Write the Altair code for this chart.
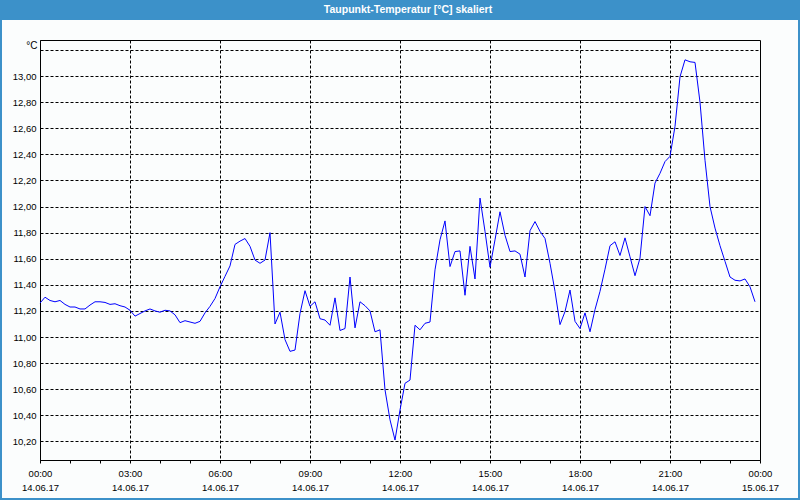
import json
import altair as alt
import pandas as pd

TITLE = "Taupunkt-Temperatur [°C] skaliert"
UNIT = "°C"

# Messzeitpunkte (Minuten ab 14.06.17 00:00, 10-Minuten-Takt)
sample_minutes = list(range(0, 24 * 60, 10))

# Taupunkt-Temperatur in °C
taupunkt = [
    11.26, 11.305, 11.28, 11.27, 11.28, 11.25, 11.23, 11.23, 11.215, 11.215,
    11.245, 11.27, 11.27, 11.265, 11.25, 11.255, 11.24, 11.23, 11.205, 11.16,
    11.18, 11.2, 11.215, 11.2, 11.19, 11.205, 11.2, 11.17, 11.11, 11.125,
    11.115, 11.105, 11.12, 11.185, 11.235, 11.295, 11.385, 11.465, 11.545, 11.71,
    11.735, 11.755, 11.695, 11.59, 11.565, 11.59, 11.80, 11.10, 11.19, 10.98,
    10.89, 10.90, 11.18, 11.355, 11.235, 11.27, 11.14, 11.13, 11.09, 11.30,
    11.05, 11.065, 11.46, 11.07, 11.27, 11.24, 11.20, 11.04, 11.055, 10.595,
    10.365, 10.21, 10.44, 10.645, 10.67, 11.09, 11.055, 11.105, 11.115, 11.515,
    11.745, 11.89, 11.54, 11.655, 11.66, 11.32, 11.695, 11.445, 12.065, 11.81,
    11.535, 11.745, 11.96, 11.78, 11.655, 11.66, 11.635, 11.46, 11.815, 11.885,
    11.81, 11.755, 11.565, 11.35, 11.095, 11.195, 11.36, 11.12, 11.065, 11.185,
    11.04, 11.21, 11.35, 11.52, 11.70, 11.73, 11.625, 11.76, 11.615, 11.47,
    11.605, 12.0, 11.93, 12.18, 12.255, 12.345, 12.385, 12.615, 12.995, 13.125,
    13.11, 13.105, 12.80, 12.355, 12.0, 11.835, 11.70, 11.58, 11.46, 11.435,
    11.43, 11.445, 11.385, 11.27,
]

x_tick_hours = list(range(0, 25))
x_time_labels = ["00:00", "03:00", "06:00", "09:00", "12:00", "15:00", "18:00", "21:00", "00:00"]
x_date_labels = ["14.06.17"] * 8 + ["15.06.17"]

y_tick_values = [10.2, 10.4, 10.6, 10.8, 11.0, 11.2, 11.4, 11.6, 11.8,
                 12.0, 12.2, 12.4, 12.6, 12.8, 13.0, 13.2]
y_tick_labels = ["10,20", "10,40", "10,60", "10,80", "11,00", "11,20", "11,40", "11,60",
                 "11,80", "12,00", "12,20", "12,40", "12,60", "12,80", "13,00", ""]
y_domain = [10.057, 13.277]

BLUE = "#3c91c9"
FONT = "Liberation Sans"

df = pd.DataFrame({"stunde": [m / 60 for m in sample_minutes], "temp": taupunkt})
one = pd.DataFrame({"k": [0]})

x_label_expr = (
    f"datum.value % 3 == 0 ? [{json.dumps(x_time_labels)}[datum.value / 3], "
    f"{json.dumps(x_date_labels)}[datum.value / 3]] : ''"
)
y_label_expr = f"{json.dumps(y_tick_labels)}[round((datum.value - 10.2) / 0.2)]"

line = alt.Chart(df).mark_line(color="#0000ff", strokeWidth=1).encode(
    x=alt.X(
        "stunde:Q",
        scale=alt.Scale(domain=[0, 24], nice=False, zero=False),
        axis=alt.Axis(
            values=x_tick_hours,
            title=None,
            labelExpr=x_label_expr,
            labelOverlap=False,
            labelFlush=False,
            labelFont=FONT,
            labelFontSize=9.5,
            labelColor="black",
            labelLineHeight=14.5,
            labelPadding=5,
            ticks=True,
            tickSize=3,
            tickColor="black",
            domainColor="black",
            grid=True,
            gridColor="black",
            gridDash=[3, 2],
            gridOpacity={"condition": {"test": "datum.value % 3 == 0 && datum.value > 0 && datum.value < 24", "value": 1}, "value": 0},
        ),
    ),
    y=alt.Y(
        "temp:Q",
        scale=alt.Scale(domain=y_domain, nice=False, zero=False),
        axis=alt.Axis(
            values=y_tick_values,
            labelExpr=y_label_expr,
            labelFont=FONT,
            labelFontSize=9.5,
            labelColor="black",
            labelPadding=4,
            ticks=False,
            domainColor="black",
            grid=True,
            gridColor="black",
            gridDash=[3, 2],
            title=UNIT,
            titleAngle=0,
            titleX=-3,
            titleY=5,
            titleAlign="right",
            titleBaseline="middle",
            titleFont=FONT,
            titleFontSize=10,
            titleFontWeight="normal",
            titleColor="black",
        ),
    ),
)

title_bar = alt.Chart(one).mark_rect(color=BLUE).encode(
    x=alt.value(-40), x2=alt.value(760), y=alt.value(-40), y2=alt.value(-20)
)
border = alt.Chart(one).mark_rect(fillOpacity=0, stroke=BLUE, strokeWidth=2).encode(
    x=alt.value(-39), x2=alt.value(759), y=alt.value(-39), y2=alt.value(459)
)
title_text = alt.Chart(one).mark_text(
    text=TITLE, font=FONT, fontSize=10.5, fontWeight="bold", color="white",
    align="center", baseline="middle",
).encode(x=alt.value(368), y=alt.value(-30))

chart = alt.layer(title_bar, border, title_text, line).properties(
    width=720,
    height=420,
    padding={"left": 40, "top": 40, "right": 40, "bottom": 40},
    autosize=alt.AutoSizeParams(type="none"),
    background="#fbfdfd",
).configure_view(stroke="black", strokeWidth=1)

chart.save("out.html", embed_options={"renderer": "svg", "actions": False})
